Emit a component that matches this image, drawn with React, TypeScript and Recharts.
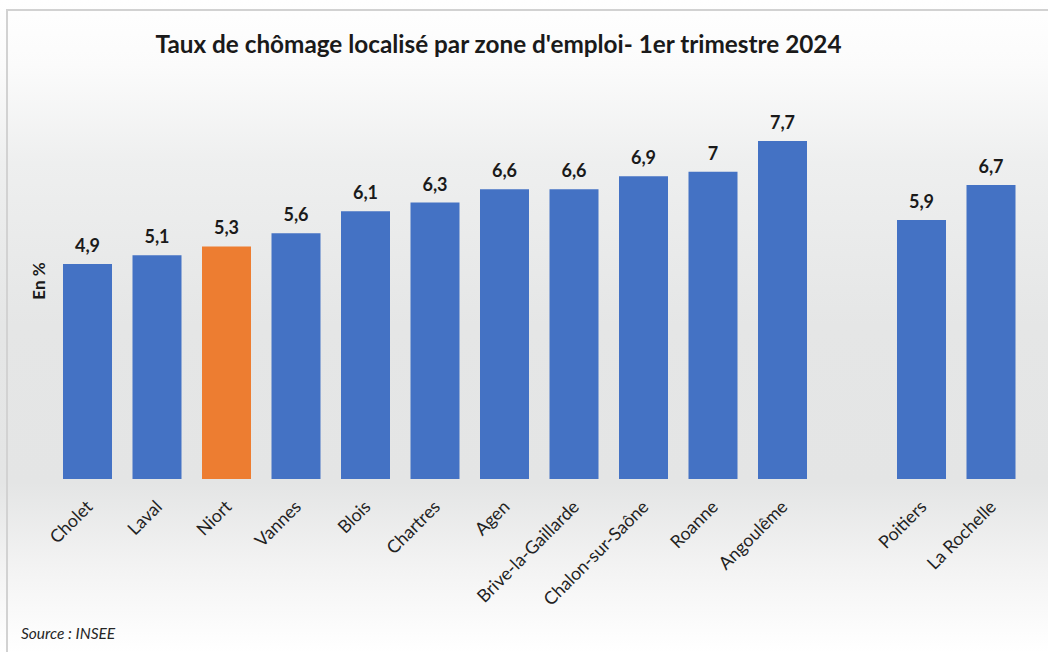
import React from 'react';
import { BarChart, Bar, XAxis, YAxis, LabelList, Cell } from 'recharts';

const categories = ['Cholet', 'Laval', 'Niort', 'Vannes', 'Blois', 'Chartres', 'Agen', 'Brive-la-Gaillarde', 'Chalon-sur-Saône', 'Roanne', 'Angoulême', ' ', 'Poitiers', 'La Rochelle'];
const values: (number | null)[] = [4.9, 5.1, 5.3, 5.6, 6.1, 6.3, 6.6, 6.6, 6.9, 7, 7.7, null, 5.9, 6.7];
const highlighted = ['Niort'];

const data = categories.map((name, i) => ({ name, value: values[i] }));

const FONT = 'Lato, "Open Sans", sans-serif';

const Tick = (props: any) => {
  const { x, y, payload } = props;
  return (
    <g transform={`translate(${x + 6},${y + 29})`}>
      <text textAnchor="end" transform="rotate(-45)" fontSize={17.8} fill="#222" fontFamily={FONT}>
        {payload.value}
      </text>
    </g>
  );
};

export default function App() {
  return (
    <div
      style={{
        position: 'absolute',
        left: 0,
        top: 0,
        width: 1048,
        height: 652,
        overflow: 'hidden',
        background:
          'linear-gradient(to bottom, #ffffff 0%, #fbfbfb 10%, #eeefef 25%, #e5e6e6 50%, #e4e5e5 74%, #f4f4f4 88%, #ffffff 100%)',
        fontFamily: FONT,
      }}
    >
      <div
        style={{
          position: 'absolute',
          left: 6,
          top: 9,
          width: 1060,
          height: 660,
          borderTop: '2px solid #d2d2d2',
          borderLeft: '2px solid #d2d2d2',
        }}
      />
      <div
        style={{
          position: 'absolute',
          left: 0,
          top: 29,
          width: 997,
          textAlign: 'center',
          fontSize: 24.3,
          fontWeight: 700,
          color: '#1a1a1a',
          fontFamily: FONT,
        }}
      >
        Taux de chômage localisé par zone d'emploi- 1er trimestre 2024
      </div>
      <div
        style={{
          position: 'absolute',
          left: 38,
          top: 281,
          transform: 'translate(-50%, -50%) rotate(-90deg)',
          fontSize: 17,
          fontWeight: 700,
          color: '#1a1a1a',
          whiteSpace: 'nowrap',
          fontFamily: FONT,
        }}
      >
        En %
      </div>
      <div
        style={{
          position: 'absolute',
          left: 21,
          top: 624,
          fontSize: 15.5,
          fontStyle: 'italic',
          color: '#262626',
          fontFamily: FONT,
        }}
      >
        Source : INSEE
      </div>
      <div style={{ position: 'absolute', left: 0, top: 0 }}>
        <BarChart
          width={1048}
          height={652}
          data={data}
          margin={{ top: 84, right: 22, bottom: 123, left: 53 }}
        >
          <XAxis
            dataKey="name"
            interval={0}
            tickLine={false}
            axisLine={false}
            tickSize={0}
            tickMargin={0}
            tick={<Tick />}
            height={50}
          />
          <YAxis hide domain={[0, 9]} width={0} />
          <Bar dataKey="value" barSize={49} isAnimationActive={false}>
            {data.map((d, i) => (
              <Cell key={i} fill={highlighted.includes(d.name) ? '#ED7D31' : '#4472C4'} />
            ))}
            <LabelList
              dataKey="value"
              position="top"
              offset={12}
              formatter={(v: any) => (v == null ? '' : String(v).replace('.', ','))}
              style={{ fontSize: 18, fontWeight: 700, fill: '#1a1a1a', fontFamily: FONT }}
            />
          </Bar>
        </BarChart>
      </div>
    </div>
  );
}
